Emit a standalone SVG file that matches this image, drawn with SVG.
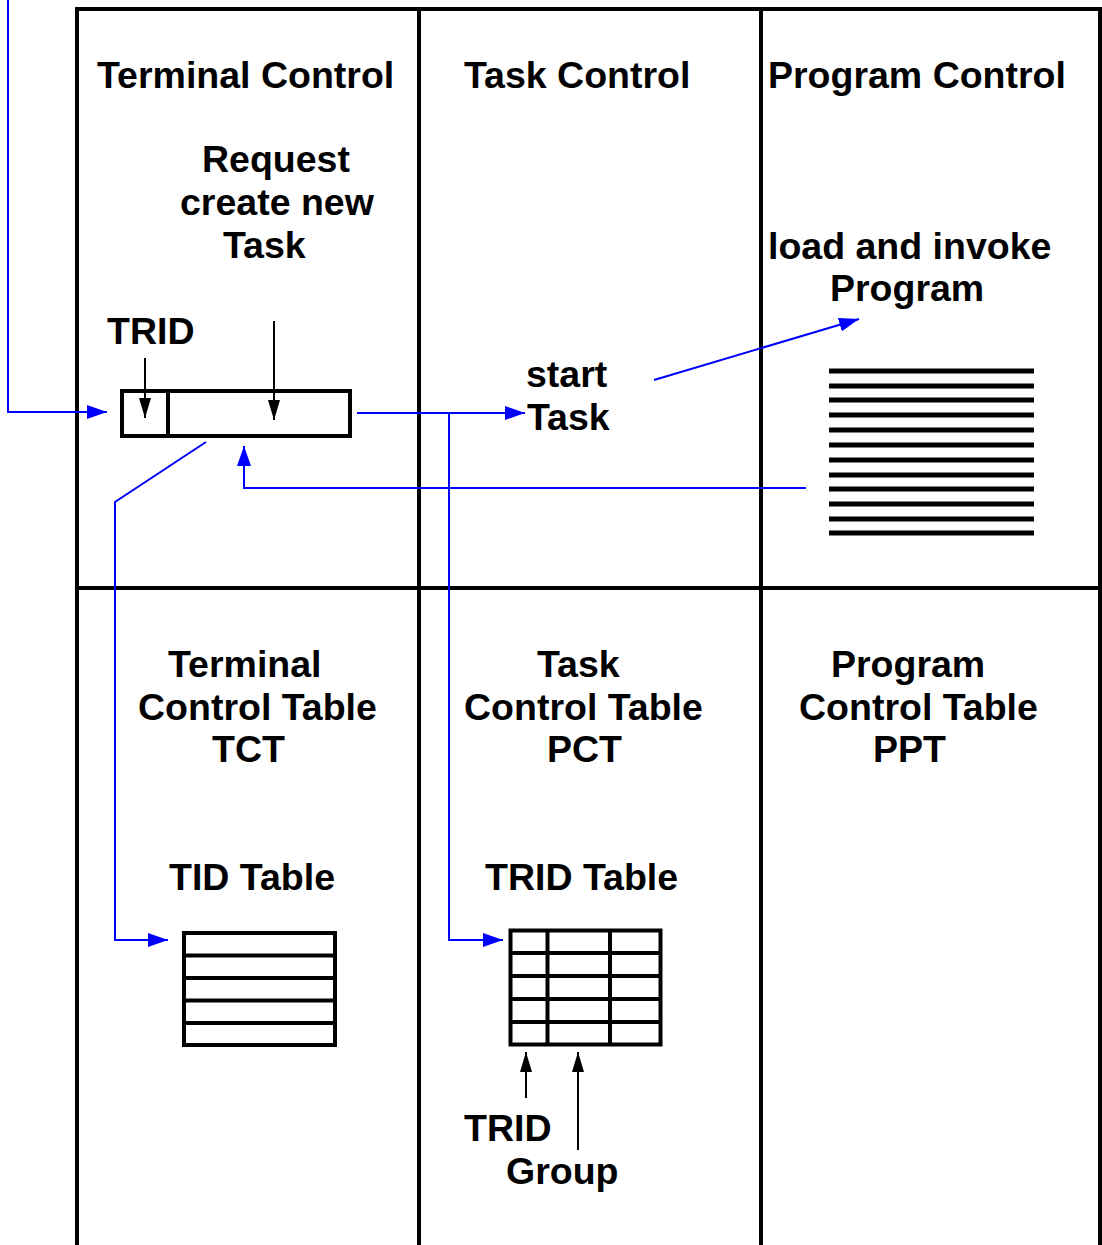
<svg xmlns="http://www.w3.org/2000/svg" width="1102" height="1245" viewBox="0 0 1102 1245">
<style>
text{font-family:"Liberation Sans",Arial,sans-serif;font-weight:bold;font-size:37.5px;fill:#000}
.frame{stroke:#000;stroke-width:4;fill:none}
.blk{stroke:#000;stroke-width:2;fill:none}
.blue{stroke:#0000ff;stroke-width:2;fill:none}
.tbl{stroke:#000;stroke-width:4;fill:#fff}
.bar{stroke:#000;stroke-width:5}
</style>
<defs>
<marker id="ab" viewBox="0 0 20 14" refX="20" refY="7" markerWidth="20" markerHeight="14" markerUnits="userSpaceOnUse" orient="auto"><path d="M0,0 L20,7 L0,14 z" fill="#0000ff"/></marker>
<marker id="ak2" viewBox="0 0 20 12" refX="20" refY="6" markerWidth="20" markerHeight="12" markerUnits="userSpaceOnUse" orient="auto"><path d="M0,0 L20,6 L0,12 z" fill="#000"/></marker>
</defs>
<g id="grid">
<line class="frame" x1="76" y1="9" x2="1102" y2="9"/>
<line class="frame" x1="77" y1="7" x2="77" y2="1245"/>
<line class="frame" x1="419" y1="9" x2="419" y2="1245"/>
<line class="frame" x1="761" y1="9" x2="761" y2="1245"/>
<line class="frame" x1="1100" y1="9" x2="1100" y2="1245"/>
<line class="frame" x1="77" y1="588" x2="1102" y2="588"/>
</g>
<g id="labels">
<text x="97" y="88">Terminal Control</text>
<text x="464" y="88">Task Control</text>
<text x="768" y="88">Program Control</text>
<text x="202" y="172">Request</text>
<text x="180" y="215">create new</text>
<text x="223" y="258">Task</text>
<text x="107" y="344">TRID</text>
<text x="768" y="259">load and invoke</text>
<text x="830" y="301">Program</text>
<text x="526" y="387">start</text>
<text x="527" y="430">Task</text>
<text x="168" y="677">Terminal</text>
<text x="138" y="720">Control Table</text>
<text x="212" y="762">TCT</text>
<text x="537" y="677">Task</text>
<text x="464" y="720">Control Table</text>
<text x="547" y="762">PCT</text>
<text x="831" y="677">Program</text>
<text x="799" y="720">Control Table</text>
<text x="873" y="762">PPT</text>
<text x="169" y="890">TID Table</text>
<text x="485" y="890">TRID Table</text>
<text x="464" y="1141">TRID</text>
<text x="506" y="1184">Group</text>
</g>
<g id="trid-box">
<rect class="tbl" x="122" y="391" width="228" height="45"/>
<line class="frame" x1="168" y1="391" x2="168" y2="436"/>
</g>
<g id="program">
<line class="bar" x1="829" y1="371" x2="1034" y2="371"/>
<line class="bar" x1="829" y1="386" x2="1034" y2="386"/>
<line class="bar" x1="829" y1="400" x2="1034" y2="400"/>
<line class="bar" x1="829" y1="415" x2="1034" y2="415"/>
<line class="bar" x1="829" y1="430" x2="1034" y2="430"/>
<line class="bar" x1="829" y1="445" x2="1034" y2="445"/>
<line class="bar" x1="829" y1="460" x2="1034" y2="460"/>
<line class="bar" x1="829" y1="475" x2="1034" y2="475"/>
<line class="bar" x1="829" y1="489" x2="1034" y2="489"/>
<line class="bar" x1="829" y1="504" x2="1034" y2="504"/>
<line class="bar" x1="829" y1="519" x2="1034" y2="519"/>
<line class="bar" x1="829" y1="533" x2="1034" y2="533"/>
</g>
<g id="tid-table">
<rect class="tbl" x="184" y="933" width="151" height="112"/>
<line class="frame" x1="184" y1="955.5" x2="335" y2="955.5"/>
<line class="frame" x1="184" y1="978" x2="335" y2="978"/>
<line class="frame" x1="184" y1="1000.5" x2="335" y2="1000.5"/>
<line class="frame" x1="184" y1="1023" x2="335" y2="1023"/>
</g>
<g id="trid-table">
<rect class="tbl" x="510.5" y="930.5" width="150" height="114"/>
<line class="frame" x1="510.5" y1="953" x2="660.5" y2="953"/>
<line class="frame" x1="510.5" y1="976" x2="660.5" y2="976"/>
<line class="frame" x1="510.5" y1="999" x2="660.5" y2="999"/>
<line class="frame" x1="510.5" y1="1022" x2="660.5" y2="1022"/>
<line class="frame" x1="547.5" y1="930.5" x2="547.5" y2="1044.5"/>
<line class="frame" x1="610" y1="930.5" x2="610" y2="1044.5"/>
</g>
<g id="connectors">
<polyline class="blue" points="8,0 8,412 107,412" marker-end="url(#ab)"/>
<polyline class="blue" points="357,413 525,413" marker-end="url(#ab)"/>
<polyline class="blue" points="449,413 449,940 503,940" marker-end="url(#ab)"/>
<polyline class="blue" points="206,442 115,502 115,940 168,940" marker-end="url(#ab)"/>
<polyline class="blue" points="806,488 244,488 244,446" marker-end="url(#ab)"/>
<polyline class="blue" points="654,380 859,319" marker-end="url(#ab)"/>
<line class="blk" x1="145" y1="358" x2="145" y2="418" marker-end="url(#ak2)"/>
<line class="blk" x1="274" y1="321" x2="274" y2="420" marker-end="url(#ak2)"/>
<line class="blk" x1="526" y1="1098" x2="526" y2="1052" marker-end="url(#ak2)"/>
<line class="blk" x1="578" y1="1150" x2="578" y2="1052" marker-end="url(#ak2)"/>
</g>
</svg>
